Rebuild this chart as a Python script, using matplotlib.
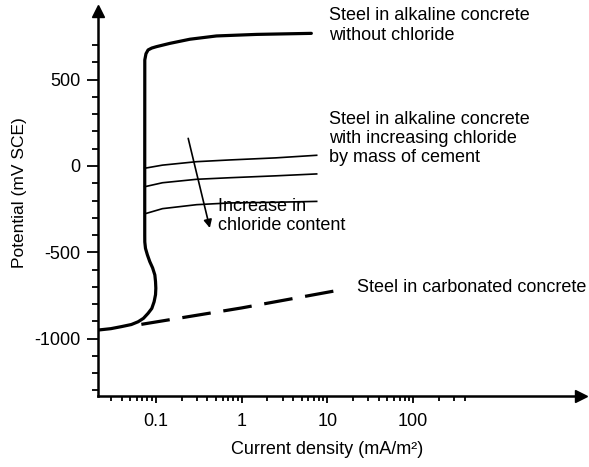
import matplotlib
matplotlib.use("Agg")
import matplotlib.pyplot as plt
from matplotlib.ticker import FixedLocator, NullFormatter

plt.rcParams["font.family"] = ["Liberation Sans", "DejaVu Sans"]
plt.rcParams["axes.unicode_minus"] = False

# current density (mA/m2) and potential (mV SCE)
no_cl_i = [0.0213, 0.03, 0.040, 0.052, 0.0624, 0.0720, 0.0815, 0.090, 0.0958, 0.0995,
           0.1003, 0.0995, 0.0977, 0.092, 0.0853, 0.080, 0.076, 0.0746, 0.0745,
           0.0745, 0.0746, 0.077, 0.0815, 0.090, 0.102, 0.146, 0.25, 0.51, 1.5, 6.5]
no_cl_e = [-950, -942, -930, -918, -902, -882, -853, -825, -786, -745,
           -708, -670, -631, -590, -554, -515, -477, -440, -400,
           0, 614, 650, 672, 683, 691, 710, 734, 753, 762, 768]

cl_i = [0.0745, 0.12, 0.3, 0.73, 2.5, 7.5]
cl_low_e = [-13, 5, 25, 35, 47, 62]
cl_mid_e = [-120, -97, -77, -68, -57, -46]
cl_high_e = [-277, -247, -224, -214, -210, -205]

carb_i = [0.068, 1.0, 14.0]
carb_e = [-917, -822, -718]

x_ticks = [0.1, 1, 10, 100]
x_labels = ["0.1", "1", "10", "100"]
x_minor = [m * d for d in (0.01, 0.1, 1, 10) for m in range(3 if d == 0.01 else 2, 10)] + [200, 300, 400]
y_ticks = [-1000, -500, 0, 500]
y_labels = ["-1000", "-500", "0", "500"]
y_minor = list(range(-1300, 800, 100))

fig = plt.figure(figsize=(5.89, 4.67), dpi=100)
ax = fig.add_axes([0.1659, 0.1520, 0.8197, 0.8239])

ax.plot(no_cl_i, no_cl_e, color="k", lw=2.3, solid_capstyle="round", solid_joinstyle="round")
for e in (cl_low_e, cl_mid_e, cl_high_e):
    ax.plot(cl_i, e, color="k", lw=1.2)
ax.plot(carb_i, carb_e, color="k", lw=2.3, dashes=(9, 4))

ax.annotate("", xy=(0.427, -359), xytext=(0.239, 160),
            arrowprops=dict(arrowstyle="-|>", color="k", lw=1.2, mutation_scale=12,
                            shrinkA=0, shrinkB=0))

ax.text(10.5, 730, "Steel in alkaline concrete\nwithout chloride", fontsize=13,
        va="baseline", linespacing=1.22)
ax.text(10.5, 25, "Steel in alkaline concrete\nwith increasing chloride\nby mass of cement",
        fontsize=13, va="baseline", linespacing=1.13)
ax.text(0.533, -371, "Increase in\nchloride content", fontsize=13, va="baseline", linespacing=1.12)
ax.text(21.9, -728, "Steel in carbonated concrete", fontsize=13, va="baseline")

ax.set_xscale("log")
ax.set_xlim(0.0211, 8890)
ax.set_ylim(-1332, 896)

ax.set_xticks(x_ticks, x_labels)
ax.xaxis.set_minor_locator(FixedLocator(x_minor))
ax.xaxis.set_minor_formatter(NullFormatter())
ax.set_yticks(y_ticks, y_labels)
ax.yaxis.set_minor_locator(FixedLocator(y_minor))

ax.tick_params(axis="both", labelsize=13, width=1.3)
ax.tick_params(axis="y", which="major", length=8, pad=4.5)
ax.tick_params(axis="y", which="minor", length=4.5, width=1.3)
ax.tick_params(axis="x", which="major", length=5, pad=7)
ax.tick_params(axis="x", which="minor", length=3.5, width=1.3)

for s in ("top", "right"):
    ax.spines[s].set_visible(False)
for s in ("left", "bottom"):
    ax.spines[s].set_linewidth(1.8)

# arrow heads on the axes
ax.plot(1, 0, ">k", ms=9, transform=ax.transAxes, clip_on=False)
ax.plot(0, 1, "^k", ms=9, transform=ax.transAxes, clip_on=False)

fig.text(20 / 589, 1 - 193 / 467, "Potential (mV SCE)", rotation=90, fontsize=12.5,
         ha="center", va="center")
fig.text(327 / 589, 1 - 450 / 467, "Current density (mA/m²)", fontsize=13,
         ha="center", va="center")

fig.savefig("out.png", dpi=100)
plt.close(fig)
